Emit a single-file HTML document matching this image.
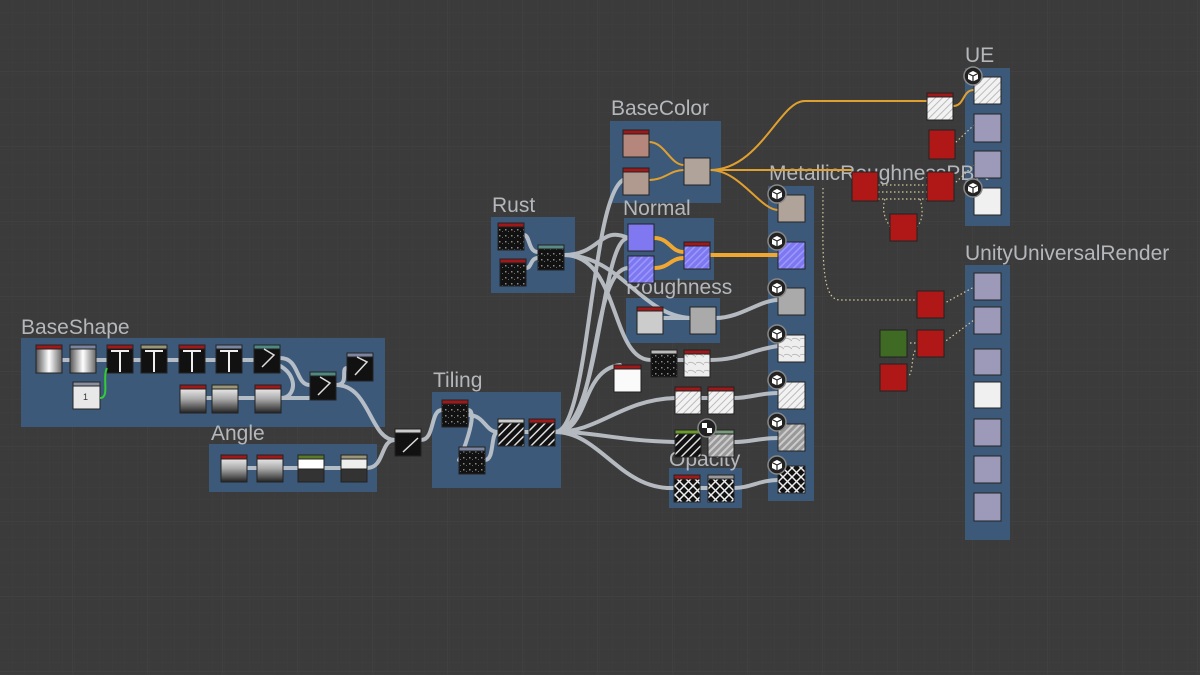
<!DOCTYPE html>
<html><head><meta charset="utf-8"><style>
html,body{margin:0;padding:0;background:#3b3b3b;}
svg{display:block;}
text{font-family:"Liberation Sans",sans-serif;fill:#b4b7bb;}
</style></head><body>
<svg width="1200" height="675" viewBox="0 0 1200 675" xmlns="http://www.w3.org/2000/svg">
<defs>
<pattern id="g" width="12.5" height="12.5" patternUnits="userSpaceOnUse"><path d="M12.5 0V12.5H0" fill="none" stroke="#3f3f3f" stroke-width="1"/></pattern>
<pattern id="G" width="75" height="75" patternUnits="userSpaceOnUse" x="-2" y="-3"><path d="M75 0V75H0" fill="none" stroke="#424242" stroke-width="1.5"/></pattern>
<linearGradient id="cyl" x1="0" x2="1"><stop offset="0" stop-color="#555"/><stop offset=".5" stop-color="#fff"/><stop offset="1" stop-color="#666"/></linearGradient>
<linearGradient id="vg" x1="0" y1="0" x2="0" y2="1"><stop offset="0" stop-color="#fff"/><stop offset=".5" stop-color="#aaa"/><stop offset="1" stop-color="#222"/></linearGradient>
<pattern id="dia" width="6" height="6" patternUnits="userSpaceOnUse" patternTransform="rotate(45)"><rect width="6" height="6" fill="#111"/><rect width="1.5" height="6" fill="#ddd"/></pattern>
<pattern id="wdia" width="5" height="5" patternUnits="userSpaceOnUse" patternTransform="rotate(45)"><rect width="5" height="5" fill="#f2f2f2"/><rect width="1" height="5" fill="#bbb"/></pattern>
<pattern id="gdia" width="5" height="5" patternUnits="userSpaceOnUse" patternTransform="rotate(45)"><rect width="5" height="5" fill="#999"/><rect width="2" height="5" fill="#ccc"/></pattern>
<pattern id="x" width="9" height="9" patternUnits="userSpaceOnUse"><rect width="9" height="9" fill="#111"/><path d="M0 0L9 9M9 0L0 9" stroke="#eee" stroke-width="1.5"/></pattern>
<pattern id="pur" width="5" height="5" patternUnits="userSpaceOnUse" patternTransform="rotate(45)"><rect width="5" height="5" fill="#7d78f0"/><rect width="1.5" height="5" fill="#9b98ff"/></pattern>
<pattern id="noise" width="6" height="6" patternUnits="userSpaceOnUse"><rect width="6" height="6" fill="#111"/><rect x="1" y="1" width="1.5" height="1.5" fill="#888"/><rect x="4" y="3" width="1" height="1" fill="#666"/></pattern>
<pattern id="marb" width="8" height="8" patternUnits="userSpaceOnUse"><rect width="8" height="8" fill="#eee"/><path d="M0 3Q4 1 8 5" stroke="#bbb" fill="none"/></pattern>
<g id="ic"><circle r="9" fill="#222" stroke="#888" stroke-width="1.5"/><path d="M0 -5L5 -2.5V3L0 5.5L-5 3V-2.5Z" fill="#fff"/><path d="M-5 -2.5L0 0L5 -2.5M0 0V5.5" stroke="#222" stroke-width="1.2" fill="none"/></g>
</defs>
<rect width="1200" height="675" fill="#3b3b3b"/>
<rect width="1200" height="675" fill="url(#g)"/>
<rect width="1200" height="675" fill="url(#G)"/>

<g fill="#3d5b7d" opacity="0.95">
<rect x="21" y="338" width="364" height="89"/>
<rect x="209" y="444" width="168" height="48"/>
<rect x="432" y="392" width="129" height="96"/>
<rect x="491" y="217" width="84" height="76"/>
<rect x="610" y="121" width="111" height="82"/>
<rect x="624" y="218" width="90" height="62"/>
<rect x="626" y="298" width="94" height="45"/>
<rect x="669" y="468" width="73" height="40"/>
<rect x="768" y="186" width="46" height="315"/>
<rect x="965" y="68" width="45" height="158"/>
<rect x="965" y="265" width="45" height="275"/>
</g>
<g font-size="21">
<text x="21" y="334">BaseShape</text>
<text x="211" y="440">Angle</text>
<text x="433" y="387">Tiling</text>
<text x="492" y="212">Rust</text>
<text x="611" y="115">BaseColor</text>
<text x="623" y="215">Normal</text>
<text x="626" y="294">Roughness</text>
<text x="669" y="466">Opacity</text>
<text x="769" y="180">MetallicRoughnessPBR</text>
<text x="965" y="62">UE</text>
<text x="965" y="260">UnityUniversalRender</text>
</g>

<g fill="none" stroke="#c3c8cf" stroke-width="4" stroke-linecap="round" opacity="0.9">
<path d="M62 360H70M96 360H107M133 360H141M167 360H179M205 360H216M242 360H254"/>
<path d="M206 398H212M238 398H255M281 398C300 398 300 360 254 360"/>
<path d="M280 358C300 358 295 385 310 385M281 398H310"/>
<path d="M336 385C350 385 340 368 347 368"/>
<path d="M336 385C370 385 370 440 395 440"/>
<path d="M247 468H257M283 468H298M324 468H341M367 468C385 468 380 440 395 440"/>
<path d="M421 440C435 440 430 410 442 410"/>
<path d="M468 410C480 410 460 460 459 460M468 415C485 415 485 432 498 432M485 460C495 460 490 432 498 432M524 432H529"/>
<path d="M555 432C600 432 600 240 628 238"/>
<path d="M555 432C600 432 590 270 628 268"/>
<path d="M555 432C590 432 590 200 623 180"/>
<path d="M555 432C600 432 620 400 675 398"/>
<path d="M555 432C600 432 610 440 675 442"/>
<path d="M555 432C600 432 620 490 674 488"/>
<path d="M555 432C590 432 580 370 620 365"/>
<path d="M524 235C530 235 528 252 538 252M526 268C532 268 530 258 538 258"/>
<path d="M564 255C600 255 600 225 628 238"/>
<path d="M564 255C620 255 640 315 690 318"/>
<path d="M564 255C620 255 610 360 651 360"/>
<path d="M663 318H690M716 318C740 318 760 300 778 300"/>
<path d="M677 360H684M710 360C740 360 750 350 778 346"/>
<path d="M701 398H708M734 398C750 398 760 393 778 393"/>
<path d="M734 442C750 442 760 438 778 438"/>
<path d="M700 488H708M734 488C750 488 760 480 778 480"/>
</g>
<g fill="none" stroke="#e0a030" stroke-width="2">
<path d="M649 142C665 142 670 165 684 165M649 180C665 180 670 170 684 170"/>
<path d="M710 170C760 170 780 100 805 101H927"/>
<path d="M710 170H852"/>
<path d="M710 170C740 170 760 210 778 210"/>
<path d="M953 106C965 106 962 90 974 90"/>
</g>
<g fill="none" stroke="#f0a830" stroke-width="4"><path d="M654 238C670 238 670 252 684 252M654 268C670 268 670 258 684 258M710 255H778"/></g>
<g fill="none" stroke="#d8c89a" stroke-width="1.2" stroke-dasharray="1.5 2.5">
<path d="M823 188C823 250 820 300 840 300H917"/>
<path d="M878 185H927M878 192H927M878 199H927M885 199C880 215 890 225 890 227M920 199C925 215 920 225 916 227"/>
<path d="M953 145L974 125M953 185L974 165"/>
<path d="M943 304L974 287M943 343L974 320M906 343H917M906 377C915 377 910 350 917 350"/>
</g>

<g stroke="#222" stroke-width="1">
<rect x="36" y="345" width="26" height="28" fill="url(#cyl)"/><rect x="36" y="345" width="26" height="4" fill="#a01818"/>
<rect x="70" y="345" width="26" height="28" fill="url(#cyl)"/><rect x="70" y="345" width="26" height="4" fill="#7b85a0"/>
<rect x="107" y="345" width="26" height="28" fill="#111"/><rect x="107" y="345" width="26" height="4" fill="#a01818"/>
<rect x="141" y="345" width="26" height="28" fill="#111"/><rect x="141" y="345" width="26" height="4" fill="#9a9676"/>
<rect x="179" y="345" width="26" height="28" fill="#111"/><rect x="179" y="345" width="26" height="4" fill="#a01818"/>
<rect x="216" y="345" width="26" height="28" fill="#111"/><rect x="216" y="345" width="26" height="4" fill="#7b85a0"/>
<rect x="254" y="345" width="26" height="28" fill="#111"/><rect x="254" y="345" width="26" height="4" fill="#4f8a82"/>
<rect x="347" y="353" width="26" height="28" fill="#111"/><rect x="347" y="353" width="26" height="4" fill="#7b85a0"/>
<rect x="73" y="382" width="27" height="27" fill="#e8e8e8"/><rect x="73" y="382" width="27" height="4" fill="#8a90a0"/>
<rect x="180" y="385" width="26" height="28" fill="url(#vg)"/><rect x="180" y="385" width="26" height="4" fill="#a01818"/>
<rect x="212" y="385" width="26" height="28" fill="url(#vg)"/><rect x="212" y="385" width="26" height="4" fill="#9a9676"/>
<rect x="255" y="385" width="26" height="28" fill="url(#vg)"/><rect x="255" y="385" width="26" height="4" fill="#a01818"/>
<rect x="310" y="372" width="26" height="28" fill="#111"/><rect x="310" y="372" width="26" height="4" fill="#4f8a82"/>
<rect x="221" y="455" width="26" height="27" fill="url(#vg)"/><rect x="221" y="455" width="26" height="4" fill="#a01818"/>
<rect x="257" y="455" width="26" height="27" fill="url(#vg)"/><rect x="257" y="455" width="26" height="4" fill="#a01818"/>
<rect x="298" y="455" width="26" height="27" fill="#333"/><rect x="298" y="459" width="26" height="10" fill="#fff"/><rect x="298" y="455" width="26" height="4" fill="#5a7a2a"/>
<rect x="341" y="455" width="26" height="27" fill="#333"/><rect x="341" y="459" width="26" height="10" fill="#eee"/><rect x="341" y="455" width="26" height="4" fill="#9a9676"/>
<rect x="395" y="429" width="26" height="27" fill="#111"/><rect x="395" y="429" width="26" height="4" fill="#ccc"/>
<rect x="442" y="400" width="26" height="27" fill="url(#noise)"/><rect x="442" y="400" width="26" height="4" fill="#a01818"/>
<rect x="459" y="447" width="26" height="27" fill="url(#noise)"/><rect x="459" y="447" width="26" height="4" fill="#7b85a0"/>
<rect x="498" y="419" width="26" height="27" fill="url(#dia)"/><rect x="498" y="419" width="26" height="4" fill="#ccc"/>
<rect x="529" y="419" width="26" height="27" fill="url(#dia)"/><rect x="529" y="419" width="26" height="4" fill="#a01818"/>
<rect x="498" y="223" width="26" height="27" fill="url(#noise)"/><rect x="498" y="223" width="26" height="4" fill="#a01818"/>
<rect x="500" y="259" width="26" height="27" fill="url(#noise)"/><rect x="500" y="259" width="26" height="4" fill="#a01818"/>
<rect x="538" y="245" width="26" height="25" fill="url(#noise)"/><rect x="538" y="245" width="26" height="4" fill="#5a8a86"/>
<rect x="623" y="130" width="26" height="27" fill="#b5877c"/><rect x="623" y="130" width="26" height="4" fill="#a01818"/>
<rect x="623" y="168" width="26" height="27" fill="#b09a90"/><rect x="623" y="168" width="26" height="4" fill="#a01818"/>
<rect x="684" y="158" width="26" height="27" fill="#b0a39a"/>
<rect x="628" y="224" width="26" height="27" fill="#8078f0"/>
<rect x="628" y="256" width="26" height="27" fill="url(#pur)"/>
<rect x="684" y="242" width="26" height="27" fill="url(#pur)"/><rect x="684" y="242" width="26" height="4" fill="#a01818"/>
<rect x="637" y="307" width="26" height="27" fill="#ccc"/><rect x="637" y="307" width="26" height="4" fill="#a01818"/>
<rect x="690" y="307" width="26" height="27" fill="#aaa"/>
<rect x="651" y="350" width="26" height="27" fill="url(#noise)"/><rect x="651" y="350" width="26" height="4" fill="#bbb"/>
<rect x="684" y="350" width="26" height="27" fill="url(#marb)"/><rect x="684" y="350" width="26" height="4" fill="#a01818"/>
<rect x="614" y="365" width="27" height="27" fill="#fafafa"/><rect x="614" y="365" width="27" height="4" fill="#a01818"/>
<rect x="675" y="387" width="26" height="27" fill="url(#wdia)"/><rect x="675" y="387" width="26" height="4" fill="#a01818"/>
<rect x="708" y="387" width="26" height="27" fill="url(#wdia)"/><rect x="708" y="387" width="26" height="4" fill="#a01818"/>
<rect x="675" y="430" width="26" height="27" fill="url(#dia)"/><rect x="675" y="430" width="26" height="4" fill="#6a9a2a"/>
<rect x="708" y="430" width="26" height="27" fill="url(#gdia)"/><rect x="708" y="430" width="26" height="4" fill="#7a9a7a"/>
<rect x="674" y="475" width="26" height="27" fill="url(#x)"/><rect x="674" y="475" width="26" height="4" fill="#a01818"/>
<rect x="708" y="475" width="26" height="27" fill="url(#x)"/><rect x="708" y="475" width="26" height="4" fill="#999"/>
<rect x="778" y="195" width="27" height="27" fill="#b0a39a"/>
<rect x="778" y="242" width="27" height="27" fill="url(#pur)"/>
<rect x="778" y="288" width="27" height="27" fill="#aaa"/>
<rect x="778" y="335" width="27" height="27" fill="url(#marb)"/>
<rect x="778" y="382" width="27" height="27" fill="url(#wdia)"/>
<rect x="778" y="424" width="27" height="27" fill="url(#gdia)"/>
<rect x="778" y="466" width="27" height="27" fill="url(#x)"/>
<rect x="974" y="77" width="27" height="27" fill="url(#wdia)"/>
<rect x="974" y="114" width="27" height="28" fill="#9c9ab8"/>
<rect x="974" y="151" width="27" height="27" fill="#9c9ab8"/>
<rect x="974" y="188" width="27" height="27" fill="#f0f0f0"/>
<rect x="927" y="93" width="26" height="27" fill="url(#wdia)"/><rect x="927" y="93" width="26" height="4" fill="#a01818"/>
<rect x="929" y="130" width="26" height="29" fill="#b01818"/>
<rect x="852" y="172" width="26" height="29" fill="#b01818"/>
<rect x="927" y="172" width="27" height="29" fill="#b01818"/>
<rect x="890" y="214" width="27" height="27" fill="#b01818"/>
<rect x="974" y="273" width="27" height="27" fill="#9c9ab8"/>
<rect x="974" y="307" width="27" height="27" fill="#9c9ab8"/>
<rect x="974" y="349" width="27" height="26" fill="#9c9ab8"/>
<rect x="974" y="382" width="27" height="26" fill="#f0f0f0"/>
<rect x="974" y="419" width="27" height="27" fill="#9c9ab8"/>
<rect x="974" y="456" width="27" height="27" fill="#9c9ab8"/>
<rect x="974" y="493" width="27" height="28" fill="#9c9ab8"/>
<rect x="917" y="291" width="27" height="27" fill="#b01818"/>
<rect x="917" y="330" width="27" height="27" fill="#b01818"/>
<rect x="880" y="330" width="27" height="27" fill="#3e6a24"/>
<rect x="880" y="364" width="27" height="27" fill="#b01818"/>
</g>
<text x="83" y="400" font-size="9" style="fill:#333">1</text>
<path d="M100 398C110 398 102 378 107 368" stroke="#3c3" stroke-width="2" fill="none"/>
<g fill="none" stroke="#eee" stroke-width="2"><path d="M120 350V372M154 350V372M192 350V372M229 350V372M111 351H129M145 351H163M183 351H201M220 351H238"/><path d="M262 367L274 355L264 349M355 375L367 362L357 357M318 395L330 383L320 377M403 452L418 438" stroke="#ddd" stroke-width="1.5"/></g>

<use href="#ic" x="777" y="194"/><use href="#ic" x="777" y="241"/><use href="#ic" x="777" y="288"/><use href="#ic" x="777" y="334"/><use href="#ic" x="777" y="380"/><use href="#ic" x="777" y="422"/><use href="#ic" x="777" y="465"/>
<use href="#ic" x="973" y="76"/><use href="#ic" x="973" y="188"/>
<g transform="translate(707 428)"><circle r="9" fill="#222" stroke="#888" stroke-width="1.5"/><rect x="-5" y="-5" width="5" height="5" fill="#fff"/><rect x="0" y="0" width="5" height="5" fill="#fff"/></g>
</svg>
</body></html>
